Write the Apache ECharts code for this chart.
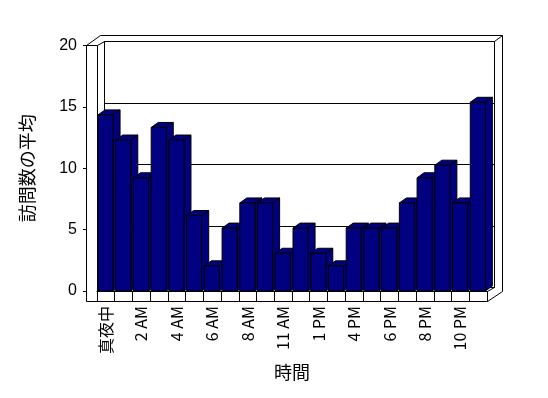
<!DOCTYPE html>
<html><head><meta charset="utf-8">
<script src="https://cdn.jsdelivr.net/npm/echarts@6/dist/echarts.min.js"></script>
<style>html,body{margin:0;padding:0;background:#fff}#c{width:548px;height:398px}</style>
</head><body><div id="c"></div>
<script>
const categories = ['真夜中','1 AM','2 AM','3 AM','4 AM','5 AM','6 AM','7 AM','8 AM','9 AM','11 AM','12 PM','1 PM','3 PM','4 PM','5 PM','6 PM','7 PM','8 PM','9 PM','10 PM','11 PM'];
const visits = [14,12,9,13,12,6,2,5,7,7,3,5,3,2,5,5,5,7,9,10,7,15];
const yTicks = [0,5,10,15,20];

const FONT = '"Liberation Sans","Noto Sans CJK JP",sans-serif';
const CJK = '"Noto Sans CJK JP","Liberation Sans",sans-serif';
const NAVY = '#000080';
const DX = 7, DY = -5;

const chart = echarts.init(document.getElementById('c'), null, {renderer:'canvas'});
const line = (pts) => ({type:'polyline', shape:{points:pts}, style:{stroke:'#000', lineWidth:1, fill:null}, silent:true, z:1});

chart.setOption({
  animation:false,
  backgroundColor:'#fff',
  grid:[
    {left:97, right:61, top:39.4, bottom:107, show:false},
    {left:87, width:10, top:45.6, bottom:107, show:false},
    {left:104.5, right:53.5, top:41.5, bottom:110.5, show:true, borderColor:'#000', borderWidth:1, backgroundColor:'#fff', z:0}
  ],
  xAxis:[
    {type:'category', gridIndex:0, data:categories, boundaryGap:true,
     axisLine:{show:true, lineStyle:{color:'#000', width:1}},
     axisTick:{show:true, interval:0, length:10, lineStyle:{color:'#000'}},
     axisLabel:{interval:1, rotate:90, margin:15, color:'#000', fontSize:16, fontFamily:CJK},
     name:'時間', nameLocation:'middle', nameGap:72,
     nameTextStyle:{color:'#000', fontSize:18, fontFamily:CJK}},
    {type:'value', gridIndex:1, show:false},
    {type:'value', gridIndex:2, show:false}
  ],
  yAxis:[
    {type:'value', gridIndex:0, min:0, max:20, interval:5, show:false},
    {type:'value', gridIndex:1, min:0, max:20, interval:5, position:'left',
     axisLine:{show:false},
     axisTick:{show:true, length:4, lineStyle:{color:'#000'}},
     splitLine:{show:false},
     axisLabel:{margin:10, color:'#000', fontSize:16, fontFamily:FONT, customValues:yTicks},
     name:'訪問数の平均', nameLocation:'middle', nameGap:51, nameRotate:90,
     nameTextStyle:{color:'#000', fontSize:18, fontFamily:CJK}},
    {type:'value', gridIndex:2, min:0, max:20, interval:5,
     axisLine:{show:false}, axisTick:{show:false}, axisLabel:{show:false},
     splitLine:{show:true, lineStyle:{color:'#000', width:1}}}
  ],
  series:[{
    type:'custom', xAxisIndex:0, yAxisIndex:0, z:3,
    data: visits.map((v,i)=>[i,v]),
    renderItem:(params, api)=>{
      const top = api.coord([api.value(0), api.value(1)]);
      const base = api.coord([api.value(0), 0]);
      const cw = api.size([1,0])[0];
      const l = top[0] - cw/2 + 1;
      const w = cw*0.85;
      const t = top[1], b = base[1];
      const st = {fill:NAVY, stroke:'#000', lineWidth:1};
      return {type:'group', children:[
        {type:'polygon', shape:{points:[[l+w,t],[l+w+DX,t+DY],[l+w+DX,b+DY],[l+w,b]]}, style:st},
        {type:'polygon', shape:{points:[[l,t],[l+w,t],[l+w+DX,t+DY],[l+DX,t+DY]]}, style:st},
        {type:'rect', shape:{x:l, y:t, width:w, height:b-t}, style:st}
      ]};
    }
  }],
  graphic:[
    line([[86.5,301.5],[86.5,45.5],[100.5,35.5],[502.5,35.5],[502.5,291.5],[487.5,301.5],[86.5,301.5]]),
    line([[86.5,45.5],[97.5,45.5],[97.5,291]]),
    line([[97.5,45.5],[104.5,41.5]]),
    line([[494.5,41.5],[502.5,35.5]]),
    line([[487.5,291],[487.5,301.5]]),
    line([[487.5,291.5],[494.5,287.5]])
  ]
});
</script></body></html>
